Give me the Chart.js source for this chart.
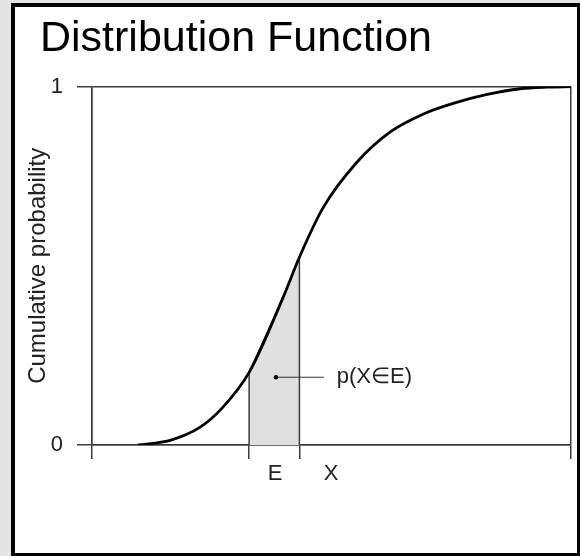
<!DOCTYPE html>
<html lang="en">
<head>
    <meta charset="UTF-8">
    <title>Distribution Function</title>
    <script src="https://cdn.jsdelivr.net/npm/chart.js"></script>
    <style>
        body { margin: 0; background: #e4e4e4; width: 580px; height: 556px; overflow: hidden; }
        #box {
            position: absolute; left: 11px; top: 3px;
            width: 570px; height: 554px; box-sizing: border-box;
            border: 4px solid #000; background: #fff;
        }
        #cdfChart { display: block; }
    </style>
</head>
<body>
    <div id="box">
        <canvas id="cdfChart" width="562" height="546"></canvas>
    </div>

    <script>
        // curve (x in arbitrary units 0..10, y = cumulative probability)
        const curveX = [0.96, 1.63, 2.25, 2.73, 3.28, 3.99, 4.33, 4.82, 5.53, 6.22, 6.91, 7.54, 8.25, 8.94, 9.5, 10];
        const curveY = [0, 0.013, 0.049, 0.105, 0.2025, 0.412, 0.524, 0.661, 0.789, 0.873, 0.923, 0.953, 0.978, 0.994, 0.9986, 1.0];

        // interval E on the x axis
        const eStart = 3.28;
        const eEnd = 4.33;

        // axis ticks and labels
        const yTicks = [0, 1];
        const xMin = 0, xMax = 10;
        const xLabelPos = [3.82, 4.99];
        const xLabelText = ['E', 'X'];

        // annotation p(X in E)
        const noteFrom = [3.84, 0.189];
        const noteTo = [4.84, 0.189];
        const noteText = 'p(X\u2208E)';
        const noteTextX = 5.11;

        const FONT = "'Liberation Sans', Arial, sans-serif";
        const AXIS = '#3c3c3c';

        const curve = curveX.map((x, i) => ({ x: x, y: curveY[i] }));

        // shaded area below the curve between eStart and eEnd
        const shade = [{ x: eStart, y: 0 }];
        curveX.forEach((x, i) => {
            if (x >= eStart && x <= eEnd) shade.push({ x: x, y: curveY[i] });
        });
        shade.push({ x: eEnd, y: 0 });

        const noteLine = [{ x: noteFrom[0], y: noteFrom[1] }, { x: noteTo[0], y: noteTo[1] }];

        const tickValues = [xMin, eStart, xLabelPos[0], eEnd, xLabelPos[1], xMax];
        const markTicks = [xMin, eStart, eEnd, xMax];

        const noteLabel = {
            id: 'noteLabel',
            afterDatasetsDraw(chart) {
                const { ctx, scales } = chart;
                ctx.save();
                ctx.font = '22px ' + FONT;
                ctx.fillStyle = '#222';
                ctx.textAlign = 'left';
                ctx.textBaseline = 'middle';
                ctx.fillText(noteText, scales.x.getPixelForValue(noteTextX), scales.y.getPixelForValue(noteFrom[1]));
                ctx.restore();
            }
        };

        const ctx = document.getElementById('cdfChart').getContext('2d');
        new Chart(ctx, {
            type: 'line',
            data: {
                datasets: [
                    {
                        data: curve,
                        borderColor: '#000',
                        borderWidth: 2.8,
                        pointRadius: 0,
                        cubicInterpolationMode: 'monotone',
                        fill: false
                    },
                    {
                        data: noteLine,
                        borderColor: '#333',
                        borderWidth: 1.2,
                        pointRadius: [2.2, 0],
                        pointBackgroundColor: '#000',
                        pointBorderWidth: 0,
                        tension: 0,
                        fill: false
                    },
                    {
                        data: shade,
                        borderColor: AXIS,
                        borderWidth: 1.5,
                        backgroundColor: '#e0e0e0',
                        pointRadius: 0,
                        tension: 0,
                        fill: 'origin'
                    }
                ]
            },
            options: {
                responsive: false,
                animation: false,
                events: [],
                layout: { padding: { left: 25, right: 6, top: 0, bottom: 0 } },
                plugins: {
                    legend: { display: false },
                    tooltip: { enabled: false },
                    title: {
                        display: true,
                        text: 'Distribution Function',
                        align: 'start',
                        color: '#000',
                        font: { family: FONT, size: 43, weight: 'normal' },
                        padding: { top: 6, bottom: 22 }
                    }
                },
                scales: {
                    x: {
                        type: 'linear',
                        min: xMin,
                        max: xMax,
                        afterBuildTicks: (axis) => { axis.ticks = tickValues.map(v => ({ value: v })); },
                        afterFit: (axis) => { axis.height = 108; },
                        border: { color: AXIS, width: 1.5 },
                        grid: {
                            lineWidth: 1.5,
                            tickLength: 14,
                            color: (c) => (c.tick && (c.tick.value === xMin || c.tick.value === xMax)) ? AXIS : 'rgba(0,0,0,0)',
                            tickColor: (c) => (c.tick && markTicks.includes(c.tick.value)) ? AXIS : 'rgba(0,0,0,0)'
                        },
                        ticks: {
                            autoSkip: false,
                            maxRotation: 0,
                            padding: 2,
                            color: '#222',
                            font: { family: FONT, size: 22 },
                            callback: (v) => {
                                const k = xLabelPos.indexOf(v);
                                return k >= 0 ? xLabelText[k] : '';
                            }
                        }
                    },
                    y: {
                        type: 'linear',
                        min: 0,
                        max: 1,
                        afterBuildTicks: (axis) => { axis.ticks = yTicks.map(v => ({ value: v })); },
                        afterFit: (axis) => { axis.width = 52; },
                        border: { color: AXIS, width: 1.5 },
                        grid: { color: AXIS, lineWidth: 1.5, tickLength: 15 },
                        ticks: {
                            padding: 14,
                            color: '#222',
                            font: { family: FONT, size: 22 },
                            callback: (v) => String(v)
                        },
                        title: {
                            display: true,
                            text: 'Cumulative probability',
                            color: '#222',
                            font: { family: FONT, size: 24 },
                            padding: { top: -16, bottom: 0 }
                        }
                    }
                }
            },
            plugins: [noteLabel]
        });
    </script>
</body>
</html>
